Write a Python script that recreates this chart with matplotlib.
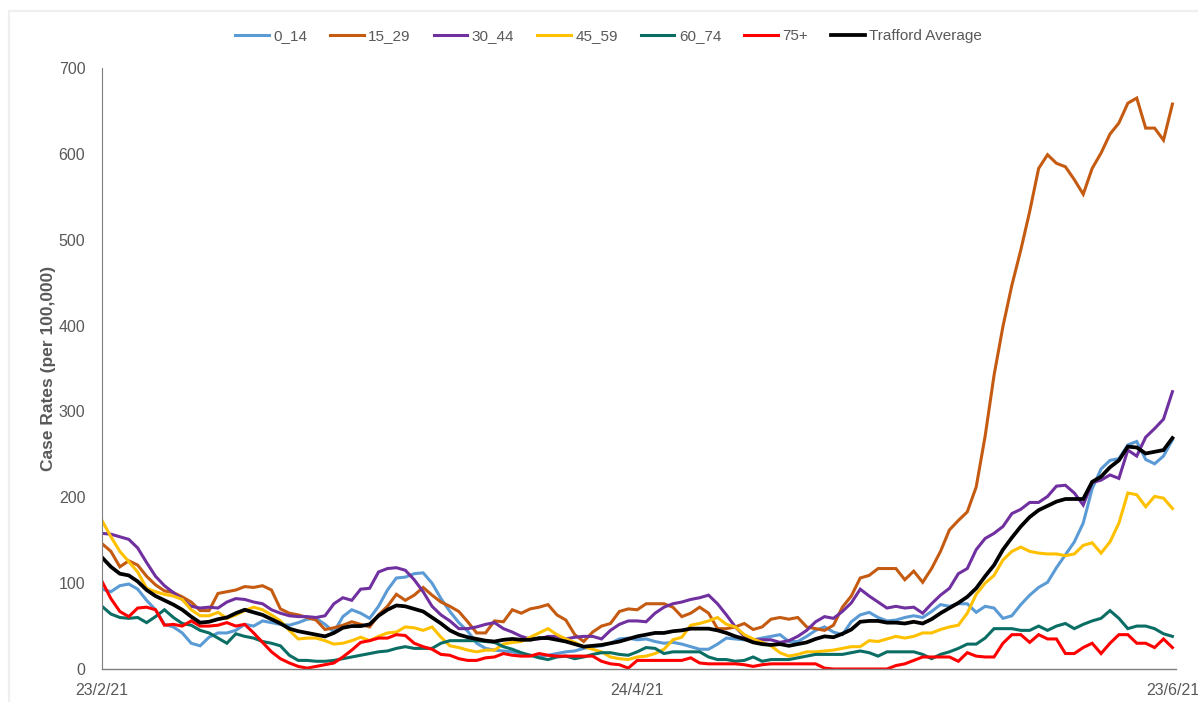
import numpy as np
import pandas as pd
import matplotlib
matplotlib.use("Agg")
import matplotlib.pyplot as plt
from matplotlib.patches import Rectangle

plt.rcParams['font.family'] = ['Liberation Sans', 'DejaVu Sans']

dates = pd.date_range("2021-02-23", "2021-06-23", freq="D")
tick_days = [0, 60, 120]

age_0_14 = [93, 90, 97, 99, 93, 80, 69, 52, 49, 42, 30, 27, 37, 42, 42, 45, 52, 50, 56, 54, 52,
            51, 54, 58, 59, 52, 43, 61, 69, 65, 59, 73, 92, 106, 107, 111, 112, 100, 82, 67, 54, 44,
            30, 24, 22, 21, 20, 17, 16, 15, 16, 18, 20, 21, 24, 26, 27, 30, 35, 36, 34, 35, 32,
            30, 31, 29, 26, 23, 23, 29, 36, 35, 34, 34, 36, 38, 40, 32, 32, 38, 45, 49, 43, 40, 55,
            63, 66, 60, 56, 57, 60, 62, 60, 67, 75, 73, 76, 76, 66, 73, 71,
            59, 62, 75, 86, 95, 101, 118, 133, 148, 170, 210, 233, 243, 245, 261, 265, 244, 239, 248, 267]

age_15_29 = [146, 137, 119, 126, 121, 108, 98, 91, 89, 84, 78, 68, 68, 88, 90, 92, 96, 95, 97, 92, 70,
             65, 63, 60, 57, 46, 48, 51, 55, 52, 49, 63, 73, 87, 80, 86, 95, 86, 78, 73, 67, 55,
             42, 42, 56, 55, 69, 65, 70, 72, 75, 63, 57, 40, 32, 43, 50, 53, 67, 70, 69, 76, 76,
             76, 72, 61, 65, 72, 65, 47, 47, 49, 53, 46, 49, 58, 60, 58, 60, 49, 47, 45, 51, 72, 85,
             106, 109, 117, 117, 117, 104, 114, 101, 117, 137, 162, 173, 183, 212, 271, 342,
             399, 447, 488, 533, 583, 599, 589, 585, 570, 553, 583, 601, 623, 636, 659, 665, 630, 630, 616, 658]

age_30_44 = [158, 157, 154, 151, 141, 124, 108, 97, 89, 81, 73, 71, 72, 71, 78, 82, 81, 78, 76, 69, 65,
             62, 61, 61, 60, 62, 76, 83, 80, 93, 94, 113, 117, 118, 115, 104, 90, 73, 63, 56, 47, 47,
             49, 52, 54, 47, 43, 38, 35, 35, 38, 38, 35, 37, 38, 38, 35, 45, 52, 56, 56, 55, 65,
             72, 76, 78, 81, 83, 86, 76, 63, 49, 38, 34, 34, 34, 31, 33, 38, 45, 55, 61, 59, 67, 77,
             93, 85, 78, 71, 73, 71, 72, 65, 76, 86, 94, 111, 117, 139, 152, 158,
             166, 181, 186, 194, 194, 201, 213, 214, 205, 191, 217, 220, 226, 222, 255, 248, 270, 280, 291, 323]

age_45_59 = [173, 154, 137, 125, 113, 94, 90, 87, 85, 81, 69, 62, 62, 66, 59, 63, 68, 72, 69, 63, 56,
             45, 35, 36, 36, 33, 29, 30, 33, 37, 33, 38, 42, 43, 49, 48, 45, 49, 37, 27, 25, 22,
             20, 22, 22, 29, 31, 32, 37, 42, 47, 40, 35, 31, 26, 23, 20, 14, 12, 11, 14, 15, 18,
             23, 34, 37, 51, 53, 56, 60, 52, 49, 40, 35, 31, 27, 19, 15, 17, 20, 20, 21, 22, 24, 26,
             26, 33, 32, 35, 38, 36, 38, 42, 42, 46, 49, 51, 65, 87, 100, 109,
             127, 137, 142, 137, 135, 134, 134, 132, 134, 144, 147, 135, 148, 170, 205, 203, 189, 201, 199, 187]

age_60_74 = [73, 64, 60, 59, 60, 54, 61, 69, 60, 53, 51, 45, 42, 36, 30, 41, 38, 36, 32, 30, 27,
             16, 10, 10, 9, 9, 10, 12, 14, 16, 18, 20, 21, 24, 26, 24, 24, 24, 30, 33, 33, 33,
             33, 32, 31, 26, 23, 19, 16, 13, 11, 14, 15, 12, 14, 17, 19, 19, 17, 16, 20, 25, 24,
             18, 20, 20, 20, 20, 14, 11, 11, 9, 10, 14, 9, 11, 11, 11, 13, 15, 17, 17, 17, 17, 19,
             21, 19, 15, 20, 20, 20, 20, 17, 12, 17, 20, 24, 29, 29, 36, 47,
             47, 47, 45, 45, 50, 45, 50, 53, 47, 52, 56, 59, 68, 59, 47, 50, 50, 47, 41, 38]

age_75_plus = [102, 82, 67, 61, 71, 72, 69, 51, 52, 50, 56, 50, 50, 51, 54, 50, 52, 42, 31, 20, 12,
               7, 3, 1, 3, 5, 7, 14, 22, 31, 33, 36, 36, 40, 39, 30, 26, 23, 17, 16, 12, 10,
               10, 13, 14, 18, 16, 15, 15, 18, 16, 15, 15, 15, 15, 15, 9, 6, 5, 1, 10, 10, 10,
               10, 10, 10, 13, 7, 6, 6, 6, 6, 5, 3, 5, 6, 6, 6, 6, 6, 6, 1, 0, 0, 0,
               0, 0, 0, 0, 4, 6, 10, 14, 14, 14, 14, 9, 19, 15, 14, 14,
               30, 40, 40, 31, 40, 35, 35, 18, 18, 25, 30, 18, 30, 40, 40, 30, 30, 25, 35, 25]

trafford_avg = [130, 119, 111, 109, 102, 92, 85, 80, 75, 69, 61, 54, 55, 58, 60, 65, 69, 66, 63, 58, 53,
                47, 44, 42, 40, 38, 42, 48, 50, 50, 52, 62, 69, 74, 73, 70, 67, 60, 53, 45, 40, 37,
                35, 33, 32, 34, 35, 34, 34, 36, 36, 34, 32, 29, 26, 27, 28, 30, 32, 35, 38, 40, 42,
                42, 44, 45, 47, 47, 47, 45, 42, 38, 35, 31, 29, 28, 29, 27, 29, 31, 35, 38, 37, 41, 46,
                55, 56, 56, 54, 54, 53, 55, 53, 58, 65, 71, 77, 84, 94, 108, 121,
                139, 153, 166, 177, 185, 190, 195, 198, 198, 198, 218, 224, 235, 243, 259, 258, 251, 253, 255, 269]

series = [
    ("0_14", age_0_14, "#5B9BD5"),
    ("15_29", age_15_29, "#C55A11"),
    ("30_44", age_30_44, "#7030A0"),
    ("45_59", age_45_59, "#FFC000"),
    ("60_74", age_60_74, "#0B6E65"),
    ("75+", age_75_plus, "#FF0000"),
    ("Trafford Average", trafford_avg, "#000000"),
]

fig = plt.figure(figsize=(11.98, 7.02), dpi=100)
fig.patches.append(Rectangle((9 / 1198, -0.1), 1.2, 1 - 11 / 702 + 0.1, transform=fig.transFigure,
                             fill=False, edgecolor="#EFEFEF", linewidth=1.6))
ax = fig.add_axes([102 / 1198, 1 - 669 / 702, (1176 - 102) / 1198, (669 - 68) / 702])

x = np.arange(len(dates))
for name, vals, col in series:
    lw = 2.7 if name == "Trafford Average" else 2.2
    ax.plot(x, vals, color=col, lw=lw, label=name, solid_joinstyle="miter")

ax.set_xlim(0, 120.4)
ax.set_ylim(0, 700)
ax.set_yticks(range(0, 701, 100))
ax.set_xticks(tick_days)
ax.set_xticklabels([f"{dates[i].day}/{dates[i].month}/{dates[i].strftime('%y')}" for i in tick_days])

for s in ["top", "right"]:
    ax.spines[s].set_visible(False)
ax.spines["bottom"].set_color("#7F7F7F")
ax.spines["left"].set_color("#7F7F7F")
ax.spines["bottom"].set_linewidth(1.0)
ax.spines["left"].set_linewidth(0.8)
ax.tick_params(axis="both", length=0, colors="#595959", labelsize=11.5)
ax.tick_params(axis="y", pad=12)
ax.tick_params(axis="x", pad=10)

ax.set_ylabel("Case Rates (per 100,000)", fontsize=12.5, fontweight="bold", color="#595959", labelpad=2)

fig.legend(loc="upper center", bbox_to_anchor=(0.508, 0.978), ncol=7, frameon=False,
           fontsize=11, handlelength=2.2, handletextpad=0.3, columnspacing=1.5, labelcolor="#595959")

fig.savefig("out.png", dpi=100)
